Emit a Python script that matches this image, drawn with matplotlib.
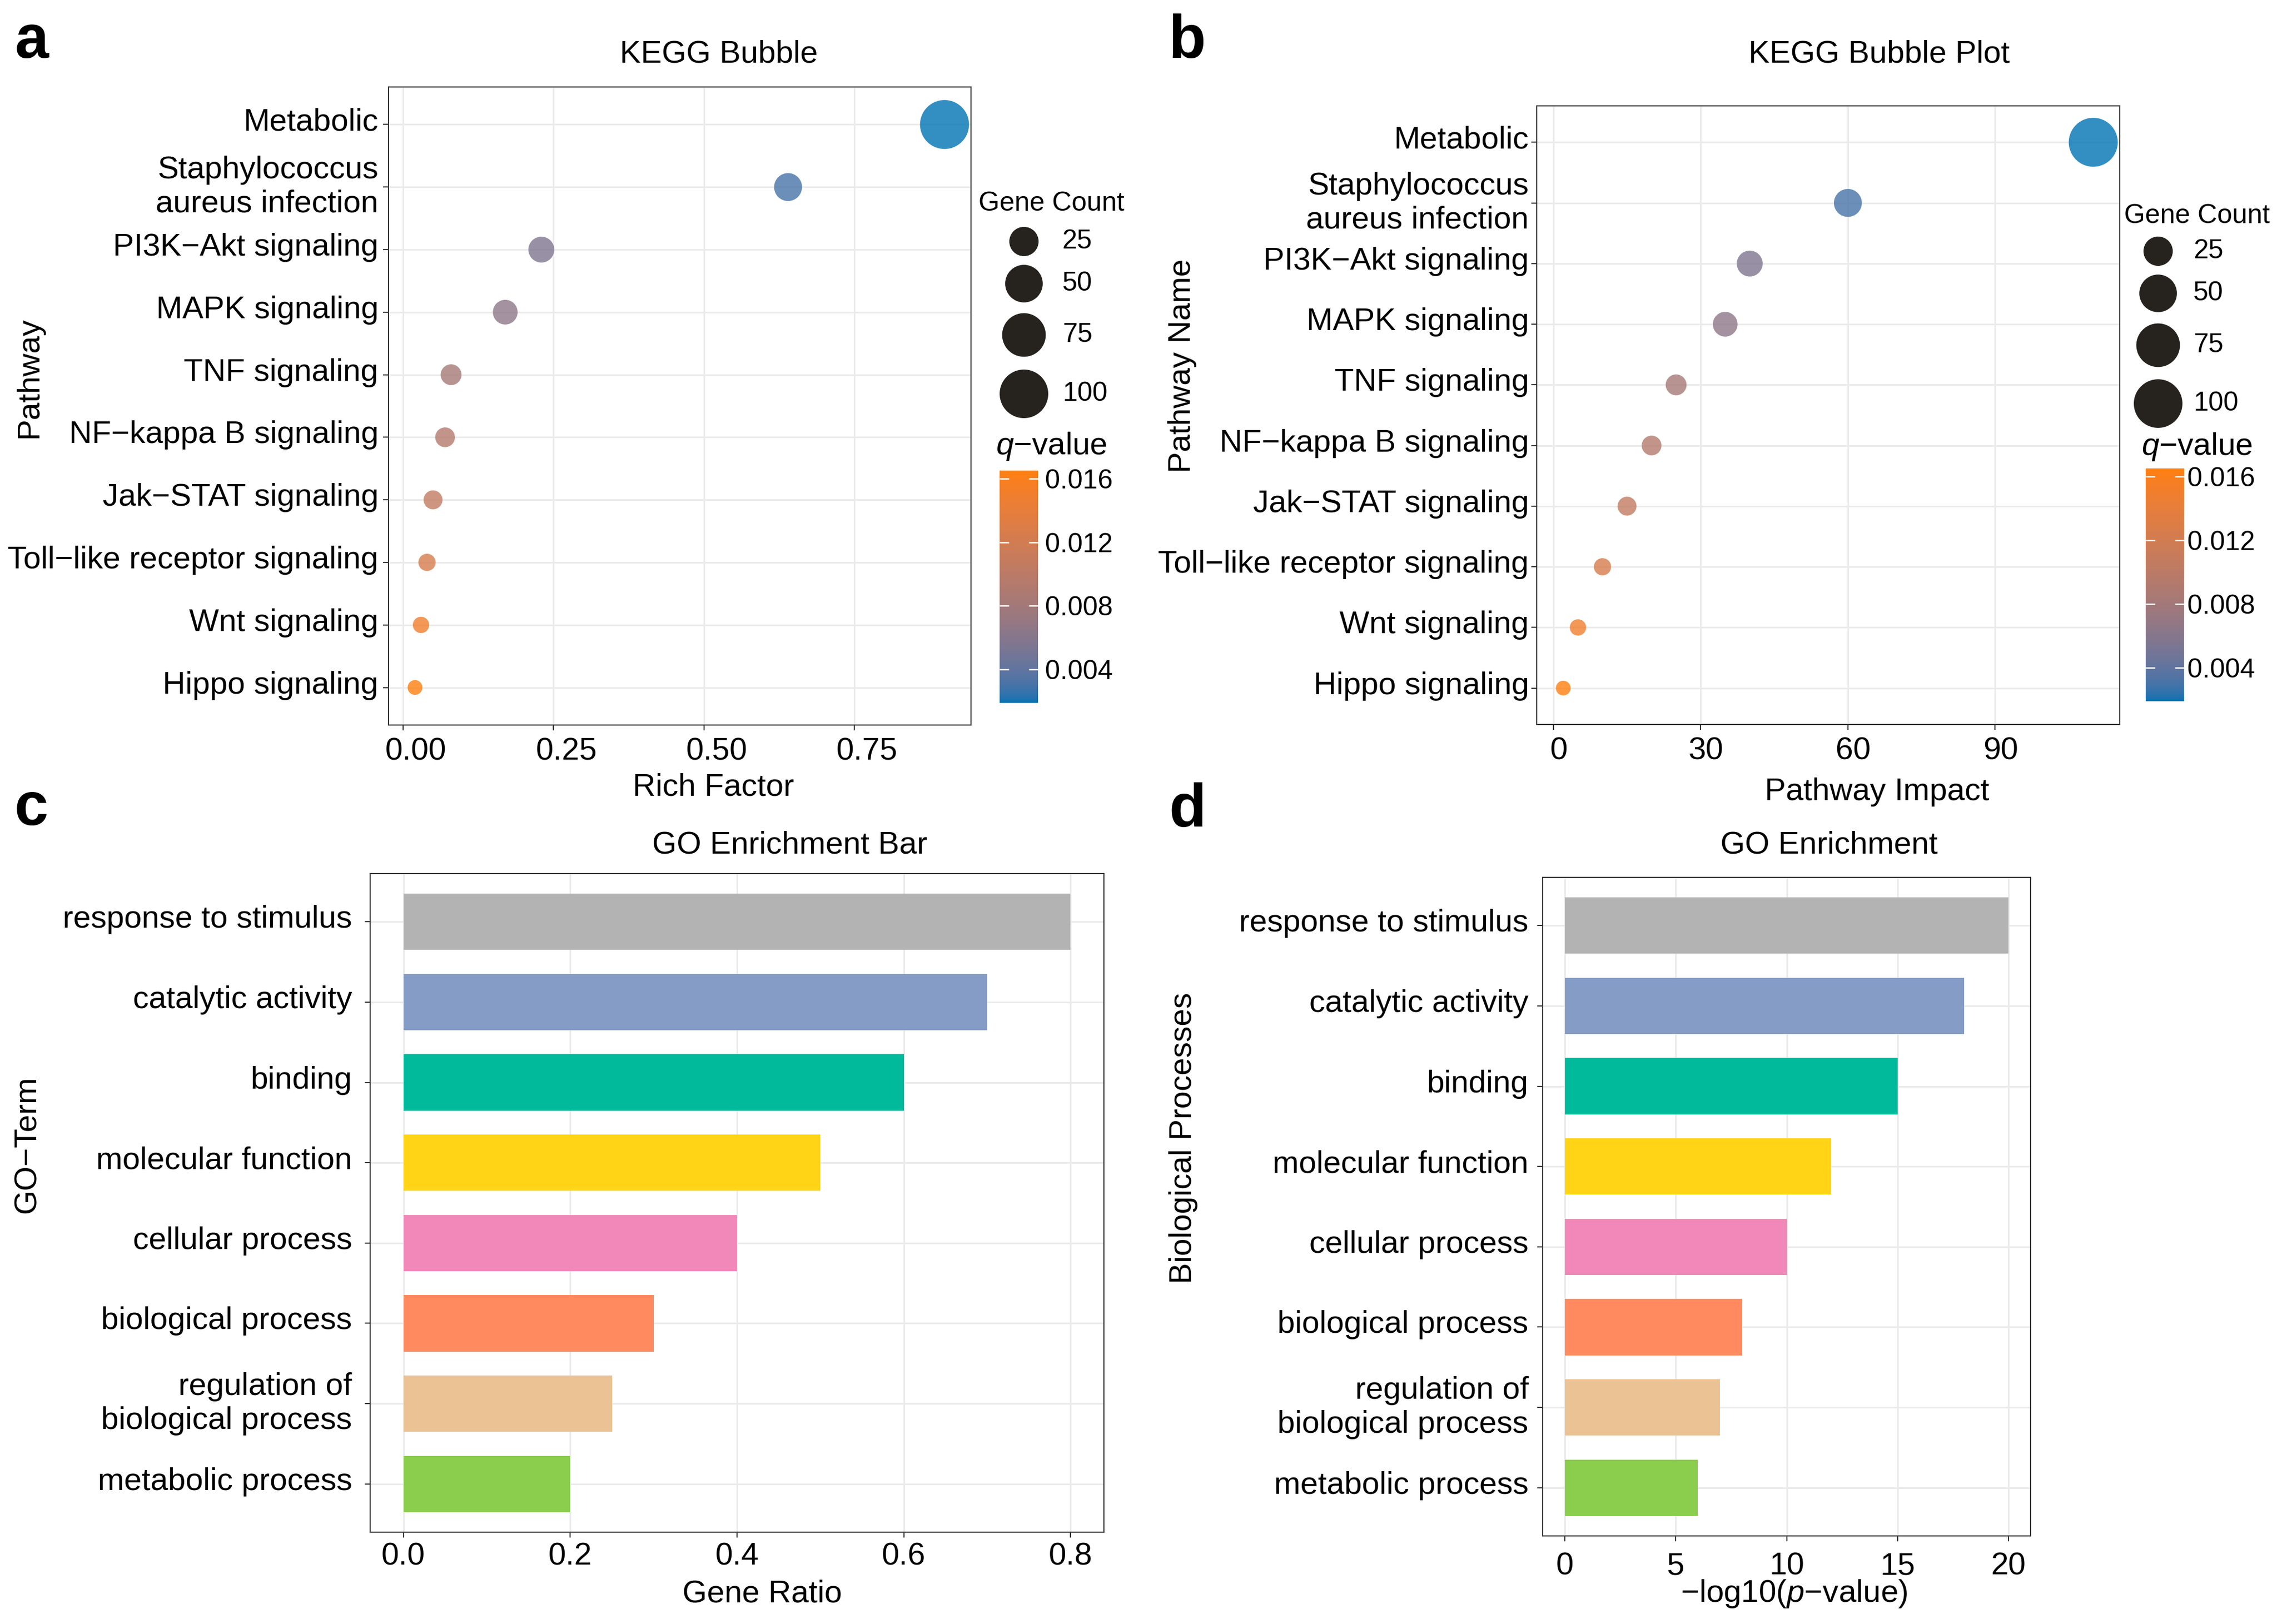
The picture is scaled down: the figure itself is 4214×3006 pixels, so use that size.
import numpy as np
import matplotlib
matplotlib.use('Agg')
import matplotlib.pyplot as plt
import matplotlib.transforms as mtransforms
from matplotlib.colors import ListedColormap, Normalize
from matplotlib.cm import ScalarMappable

plt.rcParams['font.family'] = ['Liberation Sans', 'DejaVu Sans']
plt.rcParams['mathtext.fontset'] = 'custom'
plt.rcParams['mathtext.rm'] = 'Liberation Sans'
plt.rcParams['mathtext.it'] = 'Liberation Sans:italic'

W, H, DPI = 4214, 3006, 300
MINUS = '\u2212'

# ---- data ----
pathways = ['Metabolic', 'Staphylococcus\naureus infection',
            'PI3K' + MINUS + 'Akt signaling', 'MAPK signaling', 'TNF signaling',
            'NF' + MINUS + 'kappa B signaling', 'Jak' + MINUS + 'STAT signaling',
            'Toll' + MINUS + 'like receptor signaling', 'Wnt signaling', 'Hippo signaling']
rich_factor = [0.90, 0.64, 0.23, 0.17, 0.08, 0.07, 0.05, 0.04, 0.03, 0.02]
pathway_impact = [110, 60, 40, 35, 25, 20, 15, 10, 5, 2]
gene_count = [102, 22, 18, 16, 11, 10, 9.4, 8.5, 8.2, 8]
q_value = [0.0019, 0.0030, 0.0056, 0.0065, 0.0082, 0.0094, 0.0106, 0.0125, 0.0150, 0.0165]
count_breaks = [25, 50, 75, 100]
q_breaks = [0.004, 0.008, 0.012, 0.016]

go_terms = ['response to stimulus', 'catalytic activity', 'binding', 'molecular function',
            'cellular process', 'biological process', 'regulation of\nbiological process',
            'metabolic process']
gene_ratio = [0.8, 0.7, 0.6, 0.5, 0.4, 0.3, 0.25, 0.2]
neg_log_p = [20, 18, 15, 12, 10, 8, 7, 6]
bar_colors = ['#B3B3B3', '#859DC6', '#00BA9C', '#FFD416', '#F288B9', '#FF8A5F', '#EBC294', '#8BCD4D']


# ---- helpers ----
def rect(l, t, r, b):
    return [l / W, 1 - b / H, (r - l) / W, (b - t) / H]


def fx(x):
    return x / W


def fy(y):
    return 1 - y / H


M = np.array([[0.4124, 0.3576, 0.1805],
              [0.2126, 0.7152, 0.0722],
              [0.0193, 0.1192, 0.9505]])
WHITE = np.array([0.95047, 1.0, 1.08883])


def hex_to_lab(h):
    rgb = np.array([int(h[i:i + 2], 16) for i in (1, 3, 5)]) / 255.0
    lin = np.where(rgb <= 0.04045, rgb / 12.92, ((rgb + 0.055) / 1.055) ** 2.4)
    xyz = M @ lin / WHITE
    f = np.where(xyz > 0.008856, np.cbrt(xyz), 7.787 * xyz + 16 / 116)
    return np.array([116 * f[1] - 16, 500 * (f[0] - f[1]), 200 * (f[1] - f[2])])


def lab_to_rgb(lab):
    L, a, b = lab
    f1 = (L + 16) / 116
    f = np.array([f1 + a / 500, f1, f1 - b / 200])
    xyz = np.where(f ** 3 > 0.008856, f ** 3, (f - 16 / 116) / 7.787) * WHITE
    lin = np.linalg.solve(M, xyz)
    lin = np.clip(lin, 0, None)
    rgb = np.where(lin <= 0.0031308, 12.92 * lin, 1.055 * lin ** (1 / 2.4) - 0.055)
    return np.clip(rgb, 0, 1)


# gradient interpolated in Lab like ggplot's scale_colour_gradient
lo, hi = hex_to_lab('#0072B2'), hex_to_lab('#FF7F0E')
cmap = ListedColormap([lab_to_rgb(lo + t * (hi - lo)) for t in np.linspace(0, 1, 256)])
norm = Normalize(min(q_value), max(q_value))


def dot_size(c):
    # diameter grows with sqrt of rescaled count (ggplot area scale)
    c = np.asarray(c, float)
    frac = np.clip((c - min(gene_count)) / (max(gene_count) - min(gene_count)), 0, 1)
    d_px = 27.3 + 63.3 * np.sqrt(frac)
    return (d_px * 72 / DPI) ** 2


fig = plt.figure(figsize=(W / DPI, H / DPI), dpi=DPI)
lax = fig.add_axes([0, 0, 1, 1], zorder=5)
lax.set_xlim(0, W)
lax.set_ylim(H, 0)
lax.axis('off')


def shift(labels, dx_px, dy_px):
    off = mtransforms.ScaledTranslation(dx_px / DPI, dy_px / DPI, fig.dpi_scale_trans)
    for lab in labels:
        lab.set_transform(lab.get_transform() + off)


def style(ax, ypad, xpad, xshift):
    ax.set_axisbelow(True)
    ax.grid(True, color='#EBEBEB', linewidth=0.7)
    for s in ax.spines.values():
        s.set_color('#333333')
        s.set_linewidth(0.5)
    ax.tick_params(length=2.5, width=0.5, color='#333333', labelsize=14, labelcolor='black')
    ax.tick_params(axis='y', pad=ypad)
    ax.tick_params(axis='x', pad=xpad)
    shift(ax.get_yticklabels(), 0, 10)
    shift(ax.get_xticklabels(), xshift, 0)


def bubble_panel(box, xvals, xticks, xlabels, ypad, xpad, xshift):
    ax = fig.add_axes(rect(*box))
    y = np.arange(len(pathways))[::-1]
    ax.scatter(xvals, y, s=dot_size(gene_count), c=q_value, cmap=cmap, norm=norm,
               alpha=0.8, linewidths=0, zorder=3)
    ax.set_yticks(y, pathways)
    ax.set_xticks(xticks, xlabels)
    span = max(xvals) - min(xvals)
    ax.set_xlim(min(xvals) - 0.05 * span, max(xvals) + 0.05 * span)
    ax.set_ylim(-0.6, len(pathways) - 0.4)
    style(ax, ypad, xpad, xshift)
    return ax


def bar_panel(box, vals, xticks, xlabels, ypad, xpad):
    ax = fig.add_axes(rect(*box))
    y = np.arange(len(go_terms))[::-1]
    ax.barh(y, vals, height=0.7, color=bar_colors, zorder=2)
    ax.set_yticks(y, go_terms)
    ax.set_xticks(xticks, xlabels)
    ax.set_xlim(-0.05 * max(vals), 1.05 * max(vals))
    ax.set_ylim(-0.6, len(go_terms) - 0.4)
    style(ax, ypad, xpad, 0)
    return ax


def legends(title_x, title_base, key_x, key_ys, lab_x, q_x, q_base, bar_box, bar_pad):
    fig.text(fx(title_x), fy(title_base), 'Gene Count', fontsize=12, ha='left', va='baseline')
    lax.scatter([key_x] * len(count_breaks), key_ys, s=dot_size(count_breaks),
                color='#26231F', linewidths=0)
    for v, ky in zip(count_breaks, key_ys):
        lax.text(lab_x, ky, str(v), fontsize=12, ha='left', va='center')
    fig.text(fx(q_x), fy(q_base), '$\\mathit{q}$' + MINUS + 'value', fontsize=14,
             ha='left', va='baseline')
    cax = fig.add_axes(rect(*bar_box))
    cb = fig.colorbar(ScalarMappable(norm=norm, cmap=cmap), cax=cax, ticks=q_breaks)
    cb.outline.set_visible(False)
    cb.set_ticklabels(['%.3f' % v for v in q_breaks])
    cax.tick_params(direction='in', length=4.1, width=0.6, color='white', left=True,
                    right=True, labelsize=12, pad=bar_pad)


# a
bubble_panel((719, 161, 1797, 1342), rich_factor, [0, 0.25, 0.5, 0.75],
             ['0.00', '0.25', '0.50', '0.75'], 2.0, 3.0, 24)
legends(1811, 390, 1895, [447, 525, 620, 729], 1966, 1843, 841, (1850, 871, 1921, 1301), 3.0)
# b
bubble_panel((2844, 196, 3923, 1341), pathway_impact, [0, 30, 60, 90],
             ['0', '30', '60', '90'], 1.0, 3.0, 10)
legends(3931, 413, 3994, [465, 543, 639, 747], 4059, 3963, 842, (3971, 867, 4042, 1298), 1.5)
# c
bar_panel((685, 1617, 2043, 2836), gene_ratio, [0, 0.2, 0.4, 0.6, 0.8],
          ['0.0', '0.2', '0.4', '0.6', '0.8'], 5.5, 2.0)
# d
bar_panel((2855, 1624, 3758, 2843), neg_log_p, [0, 5, 10, 15, 20],
          ['0', '5', '10', '15', '20'], 3.8, 4.5)

# titles and axis titles
texts = [
    (1330, 115, 'KEGG Bubble'), (3478, 115, 'KEGG Bubble Plot'),
    (1462, 1580, 'GO Enrichment Bar'), (3385, 1580, 'GO Enrichment'),
    (1320, 1473, 'Rich Factor'), (3474, 1481, 'Pathway Impact'),
    (1411, 2966, 'Gene Ratio'), (3320, 2965, MINUS + 'log10($\\mathit{p}$' + MINUS + 'value)'),
]
for x, y, t in texts:
    fig.text(fx(x), fy(y), t, fontsize=14, ha='center', va='baseline')

ylabels = [(54, 699, 'Pathway'), (2188, 677, 'Pathway Name'),
           (51, 2119, 'GO' + MINUS + 'Term'), (2190, 2107, 'Biological Processes')]
for x, y, t in ylabels:
    fig.text(fx(x), fy(y), t, fontsize=14, ha='center', va='center', rotation=90)

for x, y, t in [(28, 107, 'a'), (2163, 107, 'b'), (27, 1527, 'c'), (2163, 1530, 'd')]:
    fig.text(fx(x), fy(y), t, fontsize=27, fontweight='bold', ha='left', va='baseline')

fig.savefig('out.png', dpi=DPI, facecolor='white')
